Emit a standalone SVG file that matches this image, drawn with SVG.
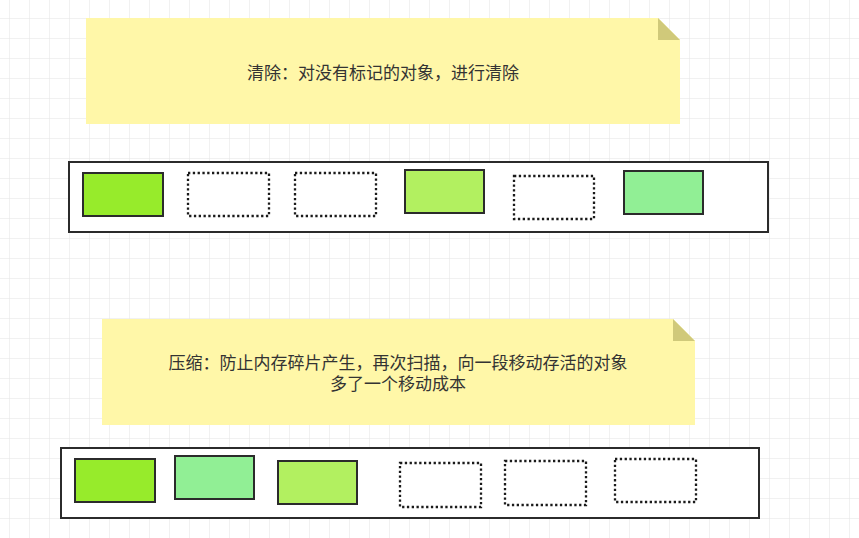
<svg xmlns="http://www.w3.org/2000/svg" width="859" height="538" viewBox="0 0 859 538">
<defs>
<pattern id="grid" x="9" y="18" width="20" height="20" patternUnits="userSpaceOnUse">
<path d="M0 0H20M0 0V20" fill="none" stroke="#e4e4e4" stroke-width="1"/>
</pattern>
<style>
.note{fill:#fff7a8;}
.fold{fill:#d0c97a;}
.bar{fill:#ffffff;stroke:#2b2b2b;stroke-width:2;}
.obj{stroke:#2b2b2b;stroke-width:2;}
.dot{fill:#ffffff;stroke:#1a1a1a;stroke-width:2.3;stroke-dasharray:2.3 2.5;}
.t{font-family:"Noto Sans CJK SC","Liberation Sans",sans-serif;font-size:17px;fill:#333333;text-anchor:middle;}
</style>
</defs>
<rect width="859" height="538" fill="#ffffff"/>
<rect width="859" height="538" fill="url(#grid)"/>
<g id="note1">
<path class="note" d="M86 18H658L680 40V124H86Z"/>
<path class="fold" d="M658 18L680 40H658Z"/>
<text class="t" x="383" y="79">清除：对没有标记的对象，进行清除</text>
</g>
<g id="bar1">
<rect class="bar" x="69" y="162" width="699" height="70"/>
</g>
<g id="b1-1"><rect class="obj" x="83" y="173" width="80" height="43" fill="#97eb2b"/></g>
<g id="b1-2"><rect class="dot" x="188" y="173" width="81" height="43"/></g>
<g id="b1-3"><rect class="dot" x="295" y="173" width="81" height="43"/></g>
<g id="b1-4"><rect class="obj" x="405" y="170" width="79" height="43" fill="#b2f060"/></g>
<g id="b1-5"><rect class="dot" x="514" y="176" width="80" height="43"/></g>
<g id="b1-6"><rect class="obj" x="624" y="171" width="79" height="43" fill="#91ef95"/></g>
<g id="note2">
<path class="note" d="M102 319H673L695 341V425H102Z"/>
<path class="fold" d="M673 319L695 341H673Z"/>
<text class="t" x="398" y="369">压缩：防止内存碎片产生，再次扫描，向一段移动存活的对象</text>
<text class="t" x="398" y="390">多了一个移动成本</text>
</g>
<g id="bar2">
<rect class="bar" x="61" y="448" width="698" height="70"/>
</g>
<g id="b2-1"><rect class="obj" x="75" y="459" width="80" height="43" fill="#97eb2b"/></g>
<g id="b2-2"><rect class="obj" x="175" y="456" width="79" height="43" fill="#91ef95"/></g>
<g id="b2-3"><rect class="obj" x="278" y="461" width="79" height="43" fill="#b2f060"/></g>
<g id="b2-4"><rect class="dot" x="400" y="463" width="81" height="44"/></g>
<g id="b2-5"><rect class="dot" x="505" y="461" width="81" height="44"/></g>
<g id="b2-6"><rect class="dot" x="615" y="459" width="81" height="43"/></g>
<g id="connectors"></g>
</svg>
